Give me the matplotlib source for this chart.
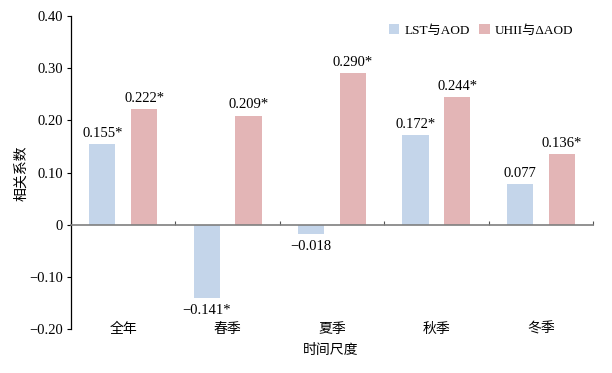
import matplotlib
matplotlib.use("Agg")
import matplotlib.pyplot as plt
import numpy as np

plt.rcParams['font.family'] = ['Liberation Serif', 'Noto Sans CJK SC']
plt.rcParams['axes.unicode_minus'] = True

categories = ['全年', '春季', '夏季', '秋季', '冬季']
lst_aod = [0.155, -0.141, -0.018, 0.172, 0.077]
uhii_daod = [0.222, 0.209, 0.290, 0.244, 0.136]
lst_labels = ['0.155*', '−0.141*', '−0.018', '0.172*', '0.077']
uhii_labels = ['0.222*', '0.209*', '0.290*', '0.244*', '0.136*']
series_names = ['LST与AOD', 'UHII与ΔAOD']
yticks = [-0.20, -0.10, 0, 0.10, 0.20, 0.30, 0.40]
ytick_labels = ['−0.20', '−0.10', '0', '0.10', '0.20', '0.30', '0.40']

c_blue = '#c4d5ea'
c_red = '#e3b5b6'

fig = plt.figure(figsize=(6.12, 3.73), dpi=100)
ax = fig.add_axes([71/612, 1-329/373, 522/612, (329-16)/373])

x = np.arange(len(categories))
w = 0.25
off = 0.2
b1 = ax.bar(x - off, lst_aod, w, color=c_blue, label=series_names[0], zorder=2)
b2 = ax.bar(x + off, uhii_daod, w, color=c_red, label=series_names[1], zorder=2)

fs = 10.5
for rect, lab, v in zip(b1, lst_labels, lst_aod):
    cx = rect.get_x() + rect.get_width()/2
    if v >= 0:
        ax.annotate(lab, (cx, v), xytext=(0, 3), textcoords='offset points',
                    ha='center', va='bottom', fontsize=fs)
    else:
        ax.annotate(lab, (cx, v), xytext=(0, -4), textcoords='offset points',
                    ha='center', va='top', fontsize=fs)
for rect, lab, v in zip(b2, uhii_labels, uhii_daod):
    cx = rect.get_x() + rect.get_width()/2
    ax.annotate(lab, (cx, v), xytext=(0, 3), textcoords='offset points',
                ha='center', va='bottom', fontsize=fs)

ax.set_xlim(-0.5, len(categories) - 0.5)
ax.set_ylim(-0.20, 0.40)
ax.set_yticks(yticks)
ax.set_yticklabels(ytick_labels, fontsize=fs)
ax.tick_params(axis='y', direction='out', length=3, width=0.8, pad=3)

ax.spines['top'].set_visible(False)
ax.spines['right'].set_visible(False)
ax.spines['left'].set_linewidth(0.9)
ax.spines['bottom'].set_position(('data', 0))
ax.spines['bottom'].set_color('#7f7f7f')
ax.spines['bottom'].set_linewidth(1.2)
ax.spines['bottom'].set_zorder(3)
ax.set_xticks(np.arange(len(categories) + 1) - 0.5)
ax.set_xticklabels([])
ax.tick_params(axis='x', direction='in', length=3, width=0.8, color='#555555')

for i, c in enumerate(categories):
    ax.text(i, -0.20, c, ha='center', va='center', fontsize=10,
            family=['Noto Sans CJK SC'], transform=ax.transData)

fig.text((71+591)/2/612, 1-350/373, '时间尺度', ha='center', va='center',
         fontsize=10, family=['Noto Sans CJK SC'])
fig.text(21/612, 1-173/373, '相关系数', ha='center', va='center',
         rotation=90, fontsize=10, family=['Noto Sans CJK SC'])

leg = ax.legend(loc='upper right', bbox_to_anchor=(0.978, 1.0), frameon=False,
                ncol=2, fontsize=9.5, handlelength=0.8, handleheight=0.8,
                handletextpad=0.4, columnspacing=0.7, borderaxespad=0.2)

fig.savefig('out.png', dpi=100)
